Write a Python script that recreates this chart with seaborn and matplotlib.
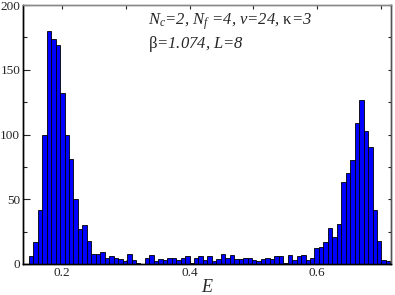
import numpy as np
import pandas as pd
import matplotlib
matplotlib.use("Agg")
import matplotlib.pyplot as plt
import seaborn as sns
from matplotlib.ticker import MultipleLocator

# histogram counts (bin width 0.007 starting at E=0.148)
counts = [6, 17, 42, 100, 180, 174, 169, 132, 100, 81, 50, 27, 30, 18, 8, 8, 9, 5, 6, 5, 4, 2, 8, 3, 1, 0,
          5, 7, 2, 4, 3, 5, 5, 3, 5, 6, 1, 5, 6, 3, 6, 2, 4, 8, 5, 7, 4, 4, 5, 5, 3, 2, 4, 5,
          4, 6, 6, 1, 7, 3, 6, 7, 3, 5, 12, 13, 17, 28, 21, 31, 63, 70, 80, 109, 127, 103, 90, 42, 18, 3, 2]
e_start = 0.148
bin_width = 0.007
x_ticks = [0.2, 0.4, 0.6]
y_ticks = [0, 50, 100, 150, 200]
line1 = r"$N_c$=2, $N_f$ =4, $v$=24, $\mathrm{κ}$=3"
line2 = r"$\mathrm{β}$=1.074, $L$=8"

edges = e_start + bin_width * np.arange(len(counts) + 1)
df = pd.DataFrame({"E": (edges[:-1] + edges[1:]) / 2, "n": counts})

sns.set_style("ticks")
plt.rcParams["font.family"] = ["Liberation Serif", "DejaVu Serif"]
plt.rcParams["mathtext.fontset"] = "custom"
plt.rcParams["mathtext.rm"] = "Liberation Serif"
plt.rcParams["mathtext.it"] = "Liberation Serif:italic"

fig = plt.figure(figsize=(3.95, 2.95), dpi=100)
ax = fig.add_axes([23 / 395, 31 / 295, 368 / 395, 259 / 295])

sns.histplot(data=df, x="E", weights="n", bins=list(edges), color="#0000ff", alpha=1,
             edgecolor="black", linewidth=0.6, ax=ax)

ax.set_xlim(0.1388, 0.716)
ax.set_ylim(0, 200)
ax.set_xticks(x_ticks)
ax.set_xticklabels([f"{t:.1f}" for t in x_ticks])
ax.xaxis.set_minor_locator(MultipleLocator(0.1))
ax.set_yticks(y_ticks)
ax.yaxis.set_minor_locator(MultipleLocator(25))
ax.tick_params(axis="x", which="both", direction="in", top=True, bottom=True,
               length=3, width=0.8, labelsize=9.5, pad=2)
ax.tick_params(axis="y", which="major", direction="in", left=True, right=False,
               length=5, width=0.8, labelsize=9.5, pad=2)
ax.tick_params(axis="y", which="minor", direction="in", left=True, right=False,
               length=2.7, width=0.8)

# short ticks on the right side
ax2 = ax.twinx()
ax2.set_ylim(0, 200)
ax2.yaxis.set_major_locator(MultipleLocator(25))
ax2.tick_params(axis="y", direction="in", length=2.5, width=0.8, labelright=False)

for a in (ax, ax2):
    a.spines["left"].set_color("black")
    a.spines["bottom"].set_color("black")
    a.spines["top"].set_color("#888888")
    a.spines["right"].set_color("#555555")
    for s in a.spines.values():
        s.set_linewidth(1)

ax.set_ylabel("")
ax.set_xlabel("E", fontsize=13, fontstyle="italic", labelpad=0)

fig.text(148 / 395, 1 - 25 / 295, line1, fontsize=12, fontstyle="italic")
fig.text(148 / 395, 1 - 48 / 295, line2, fontsize=12, fontstyle="italic")

fig.savefig("out.png", dpi=100)
